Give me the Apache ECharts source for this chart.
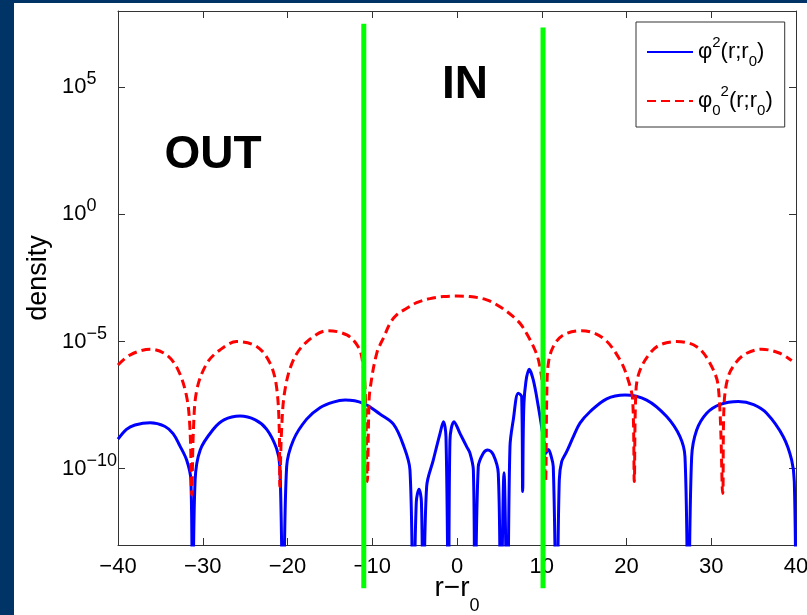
<!DOCTYPE html>
<html>
<head>
<meta charset="utf-8">
<script src="https://cdn.jsdelivr.net/npm/echarts@6/dist/echarts.min.js"></script>
<style>
html,body{margin:0;padding:0;background:#003366;}
#chart{position:absolute;left:14px;top:3px;width:793px;height:612px;background:#fff;}
</style>
</head>
<body>
<div id="chart"></div>
<script>
// x = r - r0, y = log10(density)
// -16 means the curve drops to zero (off the bottom of the axis)
const blueX = [-40, -39, -38, -36.2, -34.5, -33.5, -32.7, -31.9, -31.4, -31.2, -30.9, -30.3, -28.75, -27.5, -25.6, -23.8, -22.45, -21.3, -20.9, -20.5,
  -20.1, -19.3, -17.74, -16.17, -14.6, -13.2, -11.05, -9.1, -7.5, -6.3, -5.55, -5.16, -4.8, -4.48, -4.2, -3.98, -3.58, -2.8, -2.0, -1.6, -1.3,
  -1.0, -0.83, -0.35, 0.35, 1.14, 1.53, 1.93, 2.12, 2.51, 3.1, 3.62, 4.28, 4.87, 5.16, 5.55, 5.94, 6.25, 6.64, 7.23, 7.63,
  7.75, 7.9, 8.53, 9.0, 9.6, 10.1, 10.45, 10.78, 11.1, 11.36, 11.76, 12.07, 12.35, 12.94, 13.73, 14.51, 15.69, 17.66, 19.82, 22.38,
  24.74, 26.31, 26.9, 27.29, 27.69, 28.28, 29.46, 31.0, 33.2, 35.0, 36.54, 38.5, 39.49, 39.8, 40]
const blueY = [-8.84, -8.45, -8.28, -8.19, -8.33, -8.62, -9.1, -9.66, -10.44, -16, -10.44, -9.26, -8.45, -8.08, -7.93, -8.08, -8.45, -9.2, -9.92, -16,
  -9.92, -8.87, -8.05, -7.6, -7.38, -7.3, -7.43, -7.85, -8.25, -9.1, -10.05, -16, -11.3, -10.81, -11.3, -16, -10.7, -9.66, -8.61, -8.15, -8.74,
  -16, -8.87, -8.15, -8.61, -9.13, -9.39, -10.05, -16, -9.92, -9.39, -9.26, -9.45, -10.18, -16, -10.16, -16, -9.13, -8.08, -7.03, -7.17,
  -10.9, -7.43, -6.09, -6.51, -7.56, -8.6, -9.4, -9.24, -9.5, -9.92, -16, -10.44, -9.72, -9.33, -8.74, -8.21, -7.76, -7.25, -7.1, -7.3,
  -7.95, -8.74, -9.53, -16, -9.53, -8.48, -7.82, -7.48, -7.36, -7.48, -7.82, -8.74, -9.66, -10.5, -16]

const redX = [-40, -38.6, -36.2, -34.25, -32.9, -31.9, -31.5, -31.3, -31.1, -30.7, -29.5, -27.97, -26.0, -23.6, -22.06, -21.3, -20.97, -20.9, -20.7, -20.3,
  -19.3, -17.7, -15.2, -13.0, -11.8, -11.25, -10.85, -10.58, -10.4, -10.27, -9.47, -8.6, -7.9, -7.12, -5.93, -4.76, -3.19, -1.6, -0.04, 1.53,
  3.5, 5.07, 6.64, 7.43, 8.2, 9.2, 9.7, 10.1, 10.45, 10.6, 10.78, 11.36, 12.54, 14.71, 17.26, 19.23, 20.2, 20.73, 20.92, 21.12,
  21.6, 22.77, 23.95, 25.92, 28.28, 29.85, 30.83, 31.35, 31.5, 32.0, 33.0, 34.18, 35.95, 38.1, 39.49]
const redY = [-5.92, -5.53, -5.3, -5.53, -6.12, -7.17, -8.48, -11.03, -8.48, -6.9, -5.85, -5.33, -5.0, -5.2, -5.85, -6.77, -8.48, -10.7, -8.48, -6.9,
  -5.72, -5.0, -4.57, -4.74, -5.13, -5.59, -6.8, -10.5, -7.6, -6.9, -5.46, -4.8, -4.28, -3.95, -3.69, -3.47, -3.31, -3.23, -3.21, -3.23,
  -3.36, -3.63, -4.02, -4.28, -4.67, -5.33, -5.85, -6.8, -10.5, -7.0, -5.85, -5.2, -4.74, -4.57, -4.87, -5.72, -6.51, -7.3, -10.5, -6.9,
  -6.12, -5.46, -5.13, -5.0, -5.2, -5.85, -6.77, -10.97, -7.56, -6.38, -5.79, -5.46, -5.3, -5.46, -5.75]

// y tick labels are powers of ten
const yTicks = [-10, -5, 0, 5]
// green walls between OUT and IN
const wallX = [-11, 10.15]
const wallTop = [7.5, 7.35]
const wallBottom = [-14.7, -14.7]

const FONT = '"Liberation Sans", Arial, sans-serif'
const minus = v => v < 0 ? '\u2212' + Math.abs(v) : String(v)
const pairs = (xs, ys) => xs.map((x, i) => [x, ys[i]])

const legendText = {
  phi: '{b|\u03c6}{sup|2}{b|(r;r}{sub|0}{b|)}',
  phi0: '{b|\u03c6}{sub|0}{sup|2}{b|(r;r}{sub|0}{b|)}'
}

const axisColor = '#333'
const boxAxis = {
  axisLine: {onZero: false, lineStyle: {color: axisColor, width: 1}},
  axisTick: {inside: true, length: 7, lineStyle: {color: axisColor}},
  splitLine: {show: false}
}

const chart = echarts.init(document.getElementById('chart'))

const wallSeries = wallX.map((x, i) => ({
  type: 'line', xAxisIndex: 2, yAxisIndex: 2, silent: true, symbol: 'none',
  data: [[x, wallTop[i]], [x, wallBottom[i]]],
  lineStyle: {color: '#00ff00', width: 5}
}))

const option = {
  animation: false,
  textStyle: {fontFamily: FONT},
  grid: [
    {left: 104, top: 8, width: 678, height: 534, outerBoundsMode: 'none'},
    {left: 104, top: 8, width: 678, height: 585, outerBoundsMode: 'none'}
  ],
  xAxis: [
    {
      ...boxAxis, gridIndex: 0, type: 'value', min: -40, max: 40, interval: 10, position: 'bottom',
      axisLabel: {color: '#000', fontSize: 22, fontFamily: FONT, margin: 11, formatter: minus},
      name: '{a|r\u2212r}{s|0}', nameLocation: 'middle', nameGap: 16, nameMoveOverlap: false,
      nameTextStyle: {
        rich: {
          a: {fontSize: 28, lineHeight: 54, color: '#000', fontFamily: FONT},
          s: {fontSize: 18, lineHeight: 18, verticalAlign: 'bottom', color: '#000', fontFamily: FONT}
        }
      }
    },
    {...boxAxis, gridIndex: 0, type: 'value', min: -40, max: 40, interval: 10, position: 'top', axisLabel: {show: false}},
    {gridIndex: 1, type: 'value', min: -40, max: 40, show: false}
  ],
  yAxis: [
    {
      ...boxAxis, gridIndex: 0, type: 'value', min: -13, max: 8, position: 'left',
      axisTick: {...boxAxis.axisTick, customValues: yTicks},
      axisLabel: {
        customValues: yTicks, align: 'left', margin: 56,
        formatter: v => '{b|10}{s|' + minus(v) + '}',
        rich: {
          b: {fontSize: 22, lineHeight: 34, color: '#000', fontFamily: FONT},
          s: {fontSize: 18, lineHeight: 14, verticalAlign: 'top', color: '#000', fontFamily: FONT}
        }
      },
      name: 'density', nameLocation: 'middle', nameGap: 66, nameMoveOverlap: false,
      nameTextStyle: {fontSize: 27, color: '#000', fontFamily: FONT}
    },
    {
      ...boxAxis, gridIndex: 0, type: 'value', min: -13, max: 8, position: 'right',
      axisTick: {...boxAxis.axisTick, customValues: yTicks},
      axisLabel: {show: false}
    },
    {gridIndex: 1, type: 'value', min: -15, max: 8, show: false}
  ],
  legend: {
    data: ['phi', 'phi0'],
    orient: 'vertical', left: 622, top: 19,
    padding: [13, 12, 9, 10], itemGap: 15, itemWidth: 46, itemHeight: 14,
    borderColor: axisColor, borderWidth: 1, backgroundColor: '#fff',
    itemStyle: {opacity: 0},
    formatter: name => legendText[name],
    textStyle: {
      color: '#000',
      rich: {
        b: {fontSize: 22, lineHeight: 34, color: '#000', fontFamily: FONT},
        sup: {fontSize: 15, lineHeight: 16, verticalAlign: 'top', color: '#000', fontFamily: FONT},
        sub: {fontSize: 15, lineHeight: 16, verticalAlign: 'bottom', color: '#000', fontFamily: FONT}
      }
    }
  },
  graphic: [
    {type: 'text', x: 199, y: 152, style: {text: 'OUT', font: 'bold 46px ' + FONT, fill: '#000', align: 'center', verticalAlign: 'middle'}},
    {type: 'text', x: 451, y: 82, style: {text: 'IN', font: 'bold 46px ' + FONT, fill: '#000', align: 'center', verticalAlign: 'middle'}}
  ],
  series: [
    {
      name: 'phi', type: 'line', data: pairs(blueX, blueY), symbol: 'none',
      smooth: 0.35,
      lineStyle: {color: '#0000ff', width: 3}, itemStyle: {color: '#0000ff'}
    },
    {
      name: 'phi0', type: 'line', data: pairs(redX, redY), symbol: 'none',
      smooth: 0.35,
      lineStyle: {color: '#ff0000', width: 3, type: [9, 5]}, itemStyle: {color: '#ff0000'}
    },
    ...wallSeries
  ]
}

chart.setOption(option)
</script>
</body>
</html>
